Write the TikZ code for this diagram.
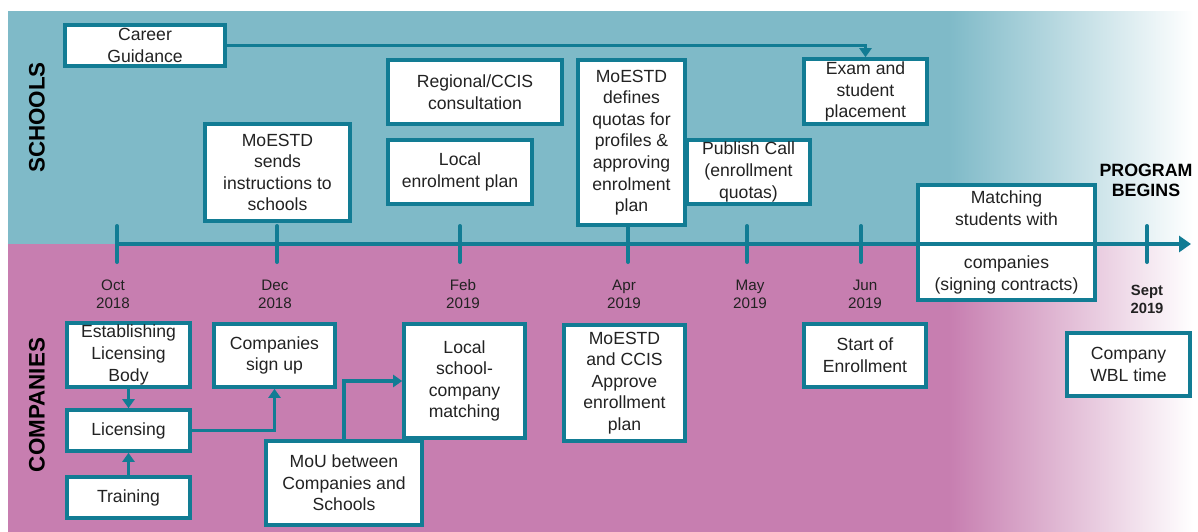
\documentclass[tikz,border=0pt]{standalone}
\usepackage{fontspec}
\setmainfont{Liberation Sans}
\usetikzlibrary{positioning}
\usetikzlibrary{arrows.meta}
\usepackage{xcolor}
\definecolor{schoolbg}{RGB}{127,186,200}
\definecolor{companybg}{RGB}{199,126,176}
\definecolor{lineteal}{RGB}{18,124,148}
\definecolor{textgrey}{RGB}{34,34,34}
\pgfdeclarehorizontalshading{schoolfade}{100bp}{color(0bp)=(schoolbg); color(64.7bp)=(schoolbg); color(75bp)=(white); color(100bp)=(white)}
\pgfdeclarehorizontalshading{companyfade}{100bp}{color(0bp)=(companybg); color(64.7bp)=(companybg); color(75bp)=(white); color(100bp)=(white)}

\begin{document}
\begin{tikzpicture}[x=0.5pt, y=-0.5pt,
    box/.style={draw=lineteal, line width=1.8pt, rectangle, fill=white, align=center, inner sep=1pt, text=textgrey, font={\fontsize{8.8}{10.8}\selectfont}},
    month/.style={align=center, text=textgrey, font={\fontsize{7.6}{9}\selectfont}},
    link/.style={draw=lineteal, line width=1.8pt, -{Triangle[width=6pt,length=4.5pt]}},
    tickmark/.style={draw=lineteal, line width=2pt, line cap=round},
    side/.style={rotate=90, text=black, font={\bfseries\fontsize{11.2}{13}\selectfont}}]
            \useasboundingbox (0,0) rectangle (1198,531);
            % Lanes
            \shade[shading=schoolfade] (8,11) rectangle (1193,244.5);
            \shade[shading=companyfade] (8,244.5) rectangle (1193,531);
            \node[side] (schoolslbl) at (37,117.5) {SCHOOLS};
            \node[side] (companieslbl) at (37,405) {COMPANIES};
            
            % Schools
            \node[box, minimum width=80pt, minimum height=20.5pt] (career) at (145,45.5) {Career\\Guidance};
            \node[box, minimum width=72.5pt, minimum height=48.5pt] (sends) at (277.5,172.5) {MoESTD\\sends\\instructions to\\schools};
            \node[box, minimum width=87pt, minimum height=32pt] (regional) at (475,92) {Regional/CCIS\\consultation};
            \node[box, minimum width=72pt, minimum height=32pt] (localplan) at (460,172) {Local\\enrolment plan};
            \node[box, minimum width=61.5pt, minimum height=32pt] (publish) at (748.5,172) {Publish Call\\(enrollment\\quotas)};
            \node[box, minimum width=53.5pt, minimum height=82.5pt] (quotas) at (631.5,142.5) {MoESTD\\defines\\quotas for\\profiles \&\\approving\\enrolment\\plan};
            \node[box, minimum width=61.5pt, minimum height=32.5pt] (exam) at (865.5,91.5) {Exam and\\student\\placement};
            \node[box, minimum width=88.5pt, minimum height=57.5pt] (matching) at (1006.5,242.5) {Matching\\students with\\[11pt]companies\\(signing contracts)};
            \node[align=center, font={\bfseries\fontsize{8.9}{10}\selectfont}] (begins) at (1146,180) {PROGRAM\\BEGINS};
            
            \draw[link] (career.east) -| (exam.north);
            
            % Companies
            \node[box, minimum width=61.5pt, minimum height=31pt] (estab) at (128.5,355) {Establishing\\Licensing\\Body};
            \node[box, minimum width=61.5pt, minimum height=20.5pt] (licensing) at (128.5,430.5) {Licensing};
            \node[box, minimum width=61.5pt, minimum height=20.5pt] (training) at (128.5,497.5) {Training};
            \node[box, minimum width=60.5pt, minimum height=31.5pt] (signup) at (274.5,355.5) {Companies\\sign up};
            \node[box, minimum width=60.5pt, minimum height=57pt] (localmatch) at (464.5,381) {Local\\school-\\company\\matching};
            \node[box, minimum width=78pt, minimum height=42pt] (mou) at (344,483) {MoU between\\Companies and\\Schools};
            \node[box, minimum width=60.5pt, minimum height=58pt] (approve) at (624.5,383) {MoESTD\\and CCIS\\Approve\\enrollment\\plan};
            \node[box, minimum width=61pt, minimum height=31.5pt] (startenrol) at (865,355.5) {Start of\\Enrollment};
            \node[box, minimum width=61.5pt, minimum height=31.5pt] (wbl) at (1128.5,364.5) {Company\\WBL time};
            
            \draw[link] (estab) -- (licensing);
            \draw[link] (training) -- (licensing);
            \draw[link] (licensing.east) -| (signup.south);
            \draw[link] (mou.north) |- (localmatch.west);
            
            % Timeline
            \coordinate (tstart) at (117,244);
            \coordinate (tend) at (1191,244);
            \draw[draw=lineteal, line width=2.4pt, -{Triangle[width=8pt,length=6pt]}] (tstart) -- (tend);
            \foreach \x in {117,277,460,628,747,861,1147}
                \draw[tickmark] (\x,226) -- (\x,262);
            
            \node[month] (oct) at (113,294) {Oct\\2018};
            \node[month] (dec) at (275,294) {Dec\\2018};
            \node[month] (feb) at (463,294) {Feb\\2019};
            \node[month] (apr) at (624,294) {Apr\\2019};
            \node[month] (may) at (750,294) {May\\2019};
            \node[month] (jun) at (865,294) {Jun\\2019};
            \node[month, font={\bfseries\fontsize{7.4}{9}\selectfont}] (sept) at (1147,299) {Sept\\2019};
        \end{tikzpicture}
\end{document}
